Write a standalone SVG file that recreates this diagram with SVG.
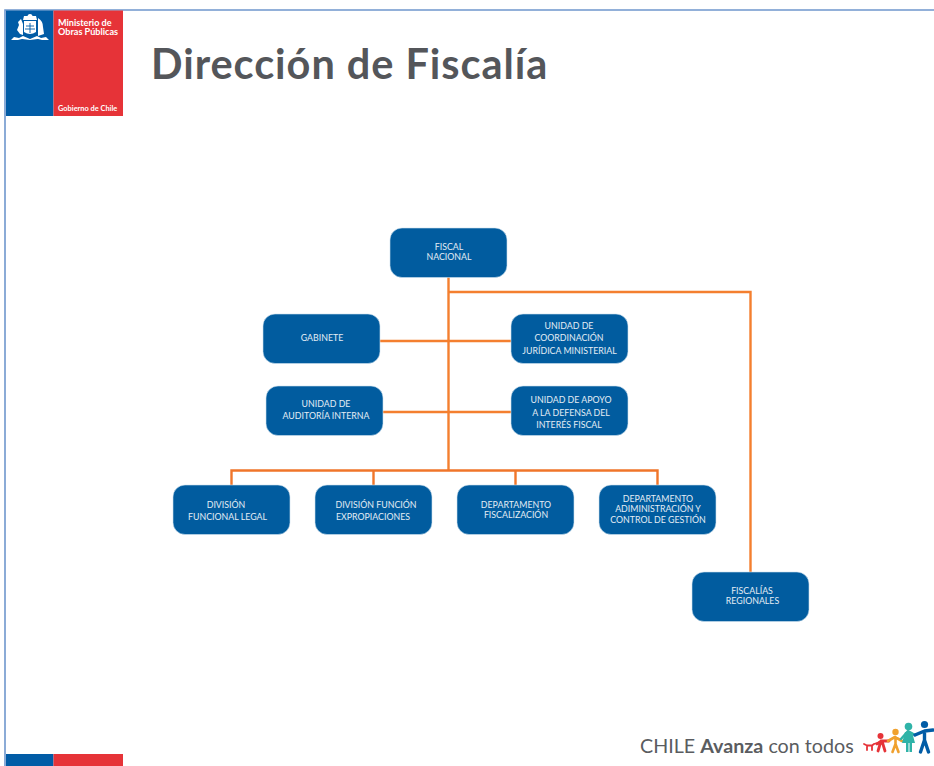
<svg xmlns="http://www.w3.org/2000/svg" width="934" height="766" viewBox="0 0 934 766">
<style>
.box{fill:#015c9f;stroke:#cfe0ee;stroke-width:.6}
.t{font-family:"Lato","Noto Sans",sans-serif;font-size:8.8px;fill:#e4edf5;text-anchor:middle}
.c{fill:none;stroke:#f47f2f;stroke-width:2.4}
.c2{fill:none;stroke:#f0752a;stroke-width:2.4}
.logo{font-family:"Lato","Noto Sans",sans-serif;font-size:9.1px;font-weight:700;fill:#fff}
.logo2{font-family:"Lato","Noto Sans",sans-serif;font-size:7.4px;font-weight:700;fill:#fff}
</style>
<rect width="934" height="766" fill="#fff"/>
<path d="M5 766V10H934" fill="none" stroke="#6f97cd" stroke-width="1.6"/>
<g id="header">
<rect x="6" y="10.500" width="47.500" height="105.500" fill="#015ca6"/>
<rect x="53.500" y="10.500" width="69.500" height="105.500" fill="#e63338"/>
<g fill="#fff">
<circle cx="30" cy="16.500" r="2.500"/>
<path d="M24 16h12l1 4H23z"/>
<path d="M24 21h12v11q-6 4-12 0z"/>
<path d="M21 19l-3 3 1 3-2 5 3 4 3 1V24z"/>
<path d="M38 18q5 3 5 9l1 7-6 2V24z"/>
<path d="M11 40l3-3 5 1 4-2 7 3 7-3 4 2 5-1 3 3-7 0-4-1-8 1-8-1-4 1z"/>
</g>
<path d="M26 26h8M30 23v10M25 29h10" stroke="#015ca6" stroke-width=".9" fill="none"/>
<text class="logo" x="58" y="25.500">Ministerio de</text>
<text class="logo" x="58" y="35">Obras Públicas</text>
<text class="logo2" x="58" y="111">Gobierno de Chile</text>
<text x="151" y="79" font-family="Lato,'Noto Sans',sans-serif" font-size="41.500" font-weight="700" fill="#54565a" letter-spacing=".95">Dirección de Fiscalía</text>
</g>
<g id="connectors">
<path class="c" d="M448.500 277V470"/>
<path class="c" d="M448.500 292H750.500V572"/>
<path class="c" d="M380 341H511"/>
<path class="c" d="M383 412H511"/>
<path class="c2" d="M231.500 485V470.500H657.500V485"/>
<path class="c2" d="M373.500 470.500V485M515.500 470.500V485"/>
</g>
<g id="fiscal-nacional"><rect class="box" x="390" y="228" width="117" height="49.500" rx="12"/><text class="t" x="449" y="249.500">FISCAL</text><text class="t" x="449" y="260">NACIONAL</text></g>
<g id="gabinete"><rect class="box" x="263" y="314" width="117" height="49.500" rx="12"/><text class="t" x="322" y="340.500">GABINETE</text></g>
<g id="coordinacion"><rect class="box" x="511" y="314" width="117" height="49.500" rx="12"/><text class="t" x="569" y="328.500">UNIDAD DE</text><text class="t" x="569" y="341">COORDINACIÓN</text><text class="t" x="569.500" y="353.500">JURÍDICA MINISTERIAL</text></g>
<g id="auditoria"><rect class="box" x="266" y="386" width="117" height="49.500" rx="12"/><text class="t" x="326" y="406.500">UNIDAD DE</text><text class="t" x="326" y="418.500">AUDITORÍA INTERNA</text></g>
<g id="apoyo"><rect class="box" x="511" y="386" width="117" height="49.500" rx="12"/><text class="t" x="571" y="403">UNIDAD DE APOYO</text><text class="t" x="571" y="415.500">A LA DEFENSA DEL</text><text class="t" x="569" y="427.500">INTERÉS FISCAL</text></g>
<g id="funcional-legal"><rect class="box" x="173" y="485" width="117" height="49.500" rx="12"/><text class="t" x="226" y="507.500">DIVISIÓN</text><text class="t" x="227.500" y="519.500">FUNCIONAL LEGAL</text></g>
<g id="expropiaciones"><rect class="box" x="315" y="485" width="117" height="49.500" rx="12"/><text class="t" x="376" y="507.500">DIVISIÓN FUNCIÓN</text><text class="t" x="373" y="519.500">EXPROPIACIONES</text></g>
<g id="fiscalizacion"><rect class="box" x="457" y="485" width="117" height="49.500" rx="12"/><text class="t" x="516" y="507.500">DEPARTAMENTO</text><text class="t" x="516" y="517.500">FISCALIZACIÓN</text></g>
<g id="administracion"><rect class="box" x="599" y="485" width="117" height="49.500" rx="12"/><text class="t" x="658" y="502">DEPARTAMENTO</text><text class="t" x="658" y="512">ADIMINISTRACIÓN Y</text><text class="t" x="658" y="522.500">CONTROL DE GESTIÓN</text></g>
<g id="fiscalias"><rect class="box" x="692" y="572" width="117" height="49.500" rx="12"/><text class="t" x="752" y="593.500">FISCALÍAS</text><text class="t" x="752.500" y="603.500">REGIONALES</text></g>
<g id="footer">
<rect x="6" y="754" width="47.500" height="12" fill="#015ca6"/>
<rect x="53.500" y="754" width="69.500" height="12" fill="#e63338"/>
<text x="640" y="753" font-family="Lato,'Noto Sans',sans-serif" font-size="19.700" fill="#5a5c60">CHILE <tspan font-weight="700">Avanza</tspan> con todos</text>
<g fill="none" stroke-linecap="round" stroke-linejoin="round">
<path d="M864 744l3 1.500h5l2-1.500M867 746v4M872 746v4M874 744l6-2" stroke="#e63338" stroke-width="1.800"/>
<circle cx="880.500" cy="736" r="3" fill="#e63338"/>
<path d="M877 744l4-3 8 0M881 741l-3 10M882 741l3 10" stroke="#e63338" stroke-width="2.800"/>
<circle cx="895.500" cy="732" r="3.200" fill="#f0a12e"/>
<path d="M888 741l7-4 7 4M895.500 737v7l-3 8M895.500 744l3 8" stroke="#f0a12e" stroke-width="2.600"/>
<circle cx="908.500" cy="726.500" r="3.800" fill="#2fb3a8"/>
<path d="M901 739l7-8 7 4" stroke="#2fb3a8" stroke-width="2.400"/>
<path d="M905 732h7l3 11h-3v9h-2.500v-9h-1v9H906v-9h-4z" fill="#2fb3a8"/>
<circle cx="924.500" cy="724.500" r="3.600" fill="#015ca6"/>
<path d="M915 735l9.500-4 8.500-1M924.500 731v9l-4 12M924.500 740l4 12" stroke="#015ca6" stroke-width="3.400"/>
</g>
</g>
</svg>
